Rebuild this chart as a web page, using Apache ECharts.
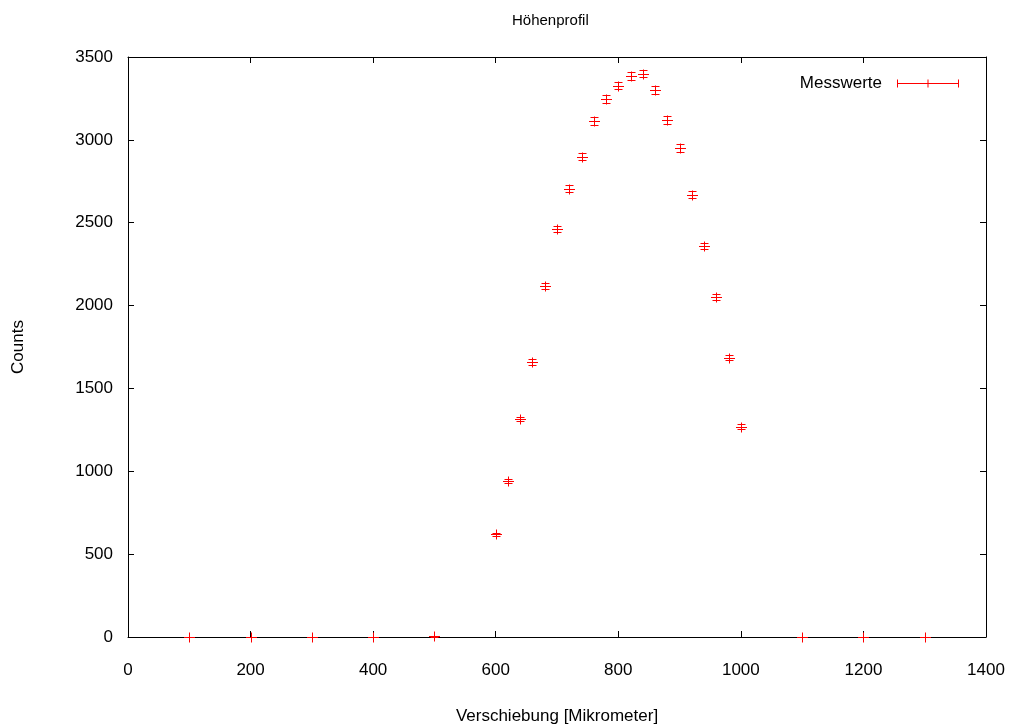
<!DOCTYPE html>
<html>
<head>
<meta charset="utf-8">
<script src="https://cdn.jsdelivr.net/npm/echarts@6/dist/echarts.min.js"></script>
<style>html,body{margin:0;padding:0;background:#fff}#c{width:1011px;height:727px}</style>
</head>
<body>
<div id="c"></div>
<script>
const positions = [100, 200, 300, 400, 500, 600, 620, 640, 660, 680, 700, 720, 740, 760, 780, 800, 820, 840, 860, 880, 900, 920, 940, 960, 980, 1000, 1100, 1200, 1300];
const counts = [0, 0, 0, 0, 5, 620, 941, 1316, 1660, 2118, 2462, 2704, 2899, 3114, 3247, 3327, 3386, 3400, 3301, 3120, 2951, 2669, 2360, 2050, 1686, 1269, 0, 0, 0];
const errors = [0, 0, 0, 0, 2, 10, 12, 14, 16, 18, 20, 21, 22, 22, 23, 23, 23, 23, 23, 22, 22, 21, 19, 18, 16, 14, 0, 0, 0];
const xTicks = {min: 0, max: 1400, interval: 200};
const yTicks = {min: 0, max: 3500, interval: 500};

const FONT = '"Liberation Sans", Arial, Helvetica, sans-serif';
const RED = '#ff0000';
const data = positions.map((x, i) => [x, counts[i], errors[i]]);

const chart = echarts.init(document.getElementById('c'));
function axisCommon() {
  return {
    z: 0,
    axisLine: {show: true, onZero: false, lineStyle: {color: '#000', width: 1}},
    axisTick: {show: true, inside: true, length: 6, lineStyle: {color: '#000', width: 1}},
    splitLine: {show: false}
  };
}
const plain = v => String(v);
chart.setOption({
  animation: false,
  backgroundColor: '#fff',
  title: {
    text: 'Höhenprofil', left: 507, top: 8,
    textStyle: {fontFamily: FONT, fontSize: 15, fontWeight: 'normal', color: '#000'}
  },
  legend: {
    data: [{name: 'Messwerte', icon: 'path://M0,3.5 h62 v1 h-62 z M0,0 h1 v8 h-1 z M61,0 h1 v8 h-1 z M30.5,0 h1 v8 h-1 z',
            itemStyle: {color: RED, borderColor: RED, borderWidth: 0}}],
    right: 52, top: 75, align: 'right', padding: 0,
    itemWidth: 62, itemHeight: 8,
    itemStyle: {color: RED, borderColor: RED, borderWidth: 0},
    textStyle: {fontFamily: FONT, fontSize: 17, color: '#000', padding: [0, 10, 0, 0]}
  },
  grid: {left: 128, right: 25, top: 57, bottom: 90, outerBoundsMode: 'none', containLabel: false},
  xAxis: [
    Object.assign(axisCommon(), {
      type: 'value', position: 'bottom', min: xTicks.min, max: xTicks.max, interval: xTicks.interval,
      name: 'Verschiebung [Mikrometer]', nameLocation: 'middle', nameGap: 71,
      nameTextStyle: {fontFamily: FONT, fontSize: 17, color: '#000'},
      axisLabel: {fontFamily: FONT, fontSize: 17, color: '#000', margin: 25, formatter: plain}
    }),
    Object.assign(axisCommon(), {
      type: 'value', position: 'top', min: xTicks.min, max: xTicks.max, interval: xTicks.interval,
      axisLabel: {show: false}
    })
  ],
  yAxis: [
    Object.assign(axisCommon(), {
      type: 'value', position: 'left', min: yTicks.min, max: yTicks.max, interval: yTicks.interval,
      name: 'Counts', nameLocation: 'middle', nameGap: 101, nameRotate: 90,
      nameTextStyle: {fontFamily: FONT, fontSize: 17, color: '#000'},
      axisLabel: {fontFamily: FONT, fontSize: 17, color: '#000', margin: 15, formatter: plain}
    }),
    Object.assign(axisCommon(), {
      type: 'value', position: 'right', min: yTicks.min, max: yTicks.max, interval: yTicks.interval,
      axisLabel: {show: false}
    })
  ],
  series: [{
    name: 'Messwerte',
    type: 'custom',
    xAxisIndex: 0, yAxisIndex: 0,
    itemStyle: {color: RED, borderColor: RED},
    data: data,
    clip: false,
    z: 10,
    renderItem: function (params, api) {
      const x = api.value(0), y = api.value(1), e = api.value(2);
      const c = api.coord([x, y]);
      const t = api.coord([x, y + e]);
      const b = api.coord([x, y - e]);
      const cx = Math.round(c[0]) + 0.5, cy = Math.round(c[1]) + 0.5;
      const ty = Math.round(t[1]) + 0.5, by = Math.round(b[1]) + 0.5;
      const st = {stroke: RED, lineWidth: 1, fill: null};
      const seg = (x1, y1, x2, y2) => ({type: 'line', shape: {x1, y1, x2, y2}, style: st});
      const children = [
        seg(cx, ty, cx, by),
        seg(cx - 4, ty, cx + 4, ty),
        seg(cx - 4, by, cx + 4, by),
        seg(cx - 5.5, cy, cx + 5.5, cy),
        seg(cx, cy - 5, cx, cy + 5)
      ];
      return {type: 'group', children};
    }
  }]
});
</script>
</body>
</html>
